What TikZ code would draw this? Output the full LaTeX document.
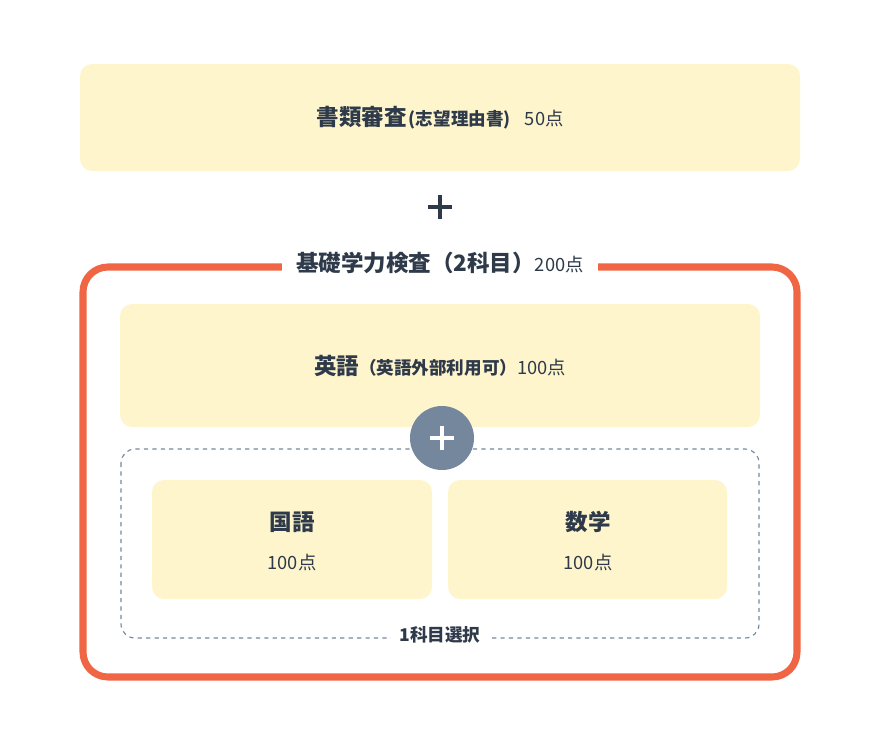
\documentclass[tikz,border=0pt]{standalone}
\usepackage{fontspec}
\setmainfont{Noto Sans CJK JP}
\usetikzlibrary{positioning}
\definecolor{boxfill}{HTML}{FEF5CD}
\definecolor{ink}{HTML}{2E3A4A}
\definecolor{framecol}{HTML}{F06543}
\definecolor{plusfill}{HTML}{74879C}
\definecolor{dashcol}{HTML}{74879C}
\newcommand{\headtxt}[1]{{\fontsize{16}{18}\selectfont\bfseries #1}}
\newcommand{\subtxt}[1]{{\fontsize{12.5}{15}\selectfont\bfseries #1}}
\newcommand{\ptstxt}[1]{{\fontsize{13}{15}\selectfont #1}}
\begin{document}
\begin{tikzpicture}[
      x=0.025cm, y=-0.025cm,
      text=ink,
      % Styles
      panel/.style={% yellow boxes
        fill=boxfill,
        rounded corners=12*0.025cm
      },
      onwhite/.style={% text on white
        fill=white,
        inner xsep=10pt,
        inner ysep=2pt
      }
      ]
      \useasboundingbox (0,0) rectangle (880,744);

      % top panel
      \fill [panel] (80,64) rectangle (800,171);
      \node (docs) at (440,118) {\headtxt{書類審査}\,\subtxt{(志望理由書)}\quad\ptstxt{50点}};

      % plus
      \draw [ink, line width=2.2pt] (428,207) -- (452,207) (440,195) -- (440,219);

      % orange frame
      \draw [framecol, line width=5pt, rounded corners=25*0.025cm] (83,267) rectangle (797,677);
      \node [onwhite] (basic) at (440,263) {\headtxt{基礎学力検査（2科目）}\ptstxt{200点}};

      % English panel
      \fill [panel] (120,304) rectangle (760,427);
      \node (english) at (440,366) {\headtxt{英語}\subtxt{（英語外部利用可）}\ptstxt{100点}};

      % choice group
      \draw [dashcol, dashed, line width=0.8pt, rounded corners=14*0.025cm] (121,449) rectangle (759,638);
      \fill [panel] (152,480) rectangle (432,599);
      \fill [panel] (448,480) rectangle (727,599);
      \node (kokugo) at (292,522) {\headtxt{国語}};
      \node (kokugopts) at (292,563) {\ptstxt{100点}};
      \node (math) at (588,522) {\headtxt{数学}};
      \node (mathpts) at (588,563) {\ptstxt{100点}};
      \node [onwhite, inner xsep=6pt, inner ysep=1pt] (select) at (440,635) {\subtxt{1科目選択}};

      % circled plus
      \node [circle, fill=plusfill, minimum size=64*0.025cm] (plus) at (442,438) {};
      \draw [white, line width=2.2pt] (430,438) -- (454,438) (442,426) -- (442,450);

    \end{tikzpicture}
\end{document}
